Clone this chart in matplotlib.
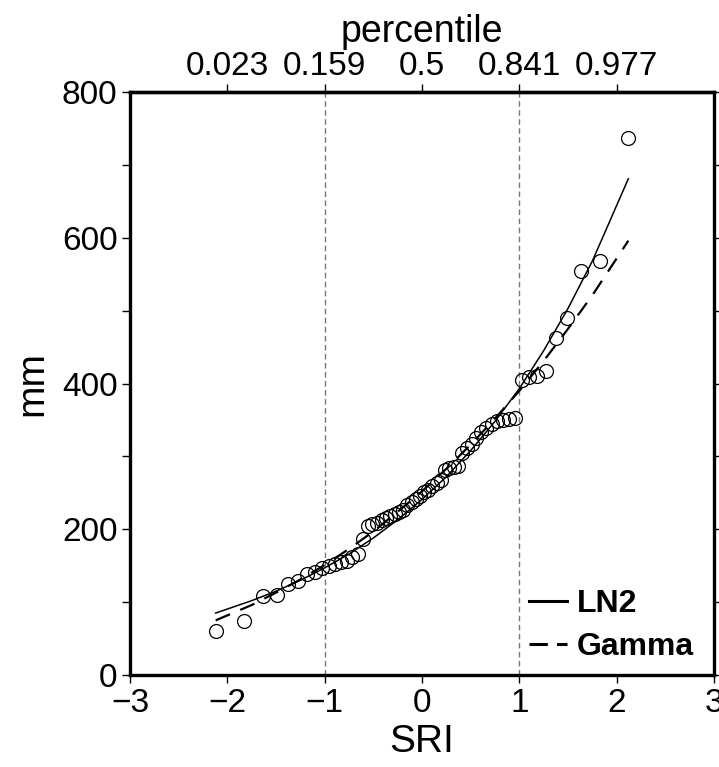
import matplotlib
matplotlib.use('Agg')
import matplotlib.pyplot as plt
from matplotlib.lines import Line2D

plt.rcParams['font.family'] = ['Liberation Sans', 'DejaVu Sans']

# Observed values (SRI quantile, mm), sorted
sri = [-2.12, -1.826, -1.637, -1.492, -1.373, -1.272, -1.182, -1.101, -1.026, -0.956,
       -0.891, -0.830, -0.771, -0.715, -0.661, -0.609, -0.559, -0.510, -0.462, -0.415,
       -0.369, -0.324, -0.280, -0.236, -0.193, -0.150, -0.107, -0.064, -0.021,
       0.021, 0.064, 0.107, 0.150, 0.193, 0.236, 0.280, 0.324, 0.369, 0.415,
       0.462, 0.510, 0.559, 0.609, 0.661, 0.715, 0.771, 0.830, 0.891, 0.956,
       1.026, 1.101, 1.182, 1.272, 1.373, 1.492, 1.637, 1.826, 2.12]
mm = [60, 74, 108, 110, 125, 129, 139, 141, 147, 150,
      152, 155, 157, 162, 166, 187, 205, 207, 209, 213,
      216, 218, 221, 224, 226, 233, 237, 242, 246,
      251, 254, 259, 264, 268, 281, 284, 285, 287, 305,
      312, 317, 325, 334, 339, 345, 349, 350, 351, 353,
      405, 409, 410, 417, 463, 490, 555, 568, 737]

# Fitted curves
curve_x = [-2.12, -1.75, -1.5, -1.25, -1.0, -0.75, -0.5, -0.25, 0.0,
           0.25, 0.5, 0.75, 1.0, 1.25, 1.5, 1.75, 2.12]
ln2_y = [85, 102, 115, 130, 147, 166, 188, 213, 241,
         272, 308, 348, 393, 445, 503, 568, 681]
gamma_y = [75, 96, 113, 131, 151, 173, 197, 224, 252,
           283, 316, 352, 390, 431, 475, 521, 596]

top_ticks = [-2, -1, 0, 1, 2]
top_labels = ['0.023', '0.159', '0.5', '0.841', '0.977']

fig = plt.figure(figsize=(7.19, 7.67), dpi=100)
ax = fig.add_axes([130/719, 1 - 675/767, (714 - 130)/719, (675 - 92)/767])

for xv in [-1, 1]:
    ax.axvline(xv, color='#777777', lw=1.0, ls=(0, (4, 2.5)), zorder=1)

ax.plot(curve_x, ln2_y, color='black', lw=1.1, zorder=2)
ax.plot(curve_x, gamma_y, color='black', lw=1.6, ls=(0, (7, 5)), zorder=2)
ax.plot(sri, mm, ls='none', marker='o', ms=10, mfc='none', mec='black', mew=0.9, zorder=3)

ax.set_xlim(-3, 3)
ax.set_ylim(0, 800)
ax.set_xticks([-3, -2, -1, 0, 1, 2, 3])
ax.set_xticklabels(['\u22123', '\u22122', '\u22121', '0', '1', '2', '3'])
ax.set_yticks([0, 200, 400, 600, 800])
ax.set_yticks([100, 300, 500, 700], minor=True)

for s in ax.spines.values():
    s.set_linewidth(2.4)

ax.tick_params(axis='both', which='major', direction='out', length=6, width=1.0,
               labelsize=24, pad=3, right=True)
ax.tick_params(axis='y', which='minor', direction='out', length=6, width=1.0, right=True)
ax.set_xlabel('SRI', fontsize=28, labelpad=4)
ax.set_ylabel('mm', fontsize=28, labelpad=8)

top = ax.secondary_xaxis('top')
top.set_xticks(top_ticks)
top.set_xticklabels(top_labels)
top.tick_params(direction='out', length=6, width=1.0, labelsize=24, pad=1)
top.spines['top'].set_linewidth(2.4)
top.set_xlabel('percentile', fontsize=27, labelpad=7)

handles = [Line2D([], [], color='black', lw=2.2),
           Line2D([], [], color='black', lw=2.2, ls=(0, (6, 3)))]
ax.legend(handles, ['LN2', 'Gamma'], loc='lower right', bbox_to_anchor=(0.987, 0.0),
          frameon=False, prop={'weight': 'bold', 'size': 23}, handlelength=1.2,
          handletextpad=0.3, labelspacing=0.4, borderaxespad=0.0)

fig.savefig('out.png', dpi=100)
